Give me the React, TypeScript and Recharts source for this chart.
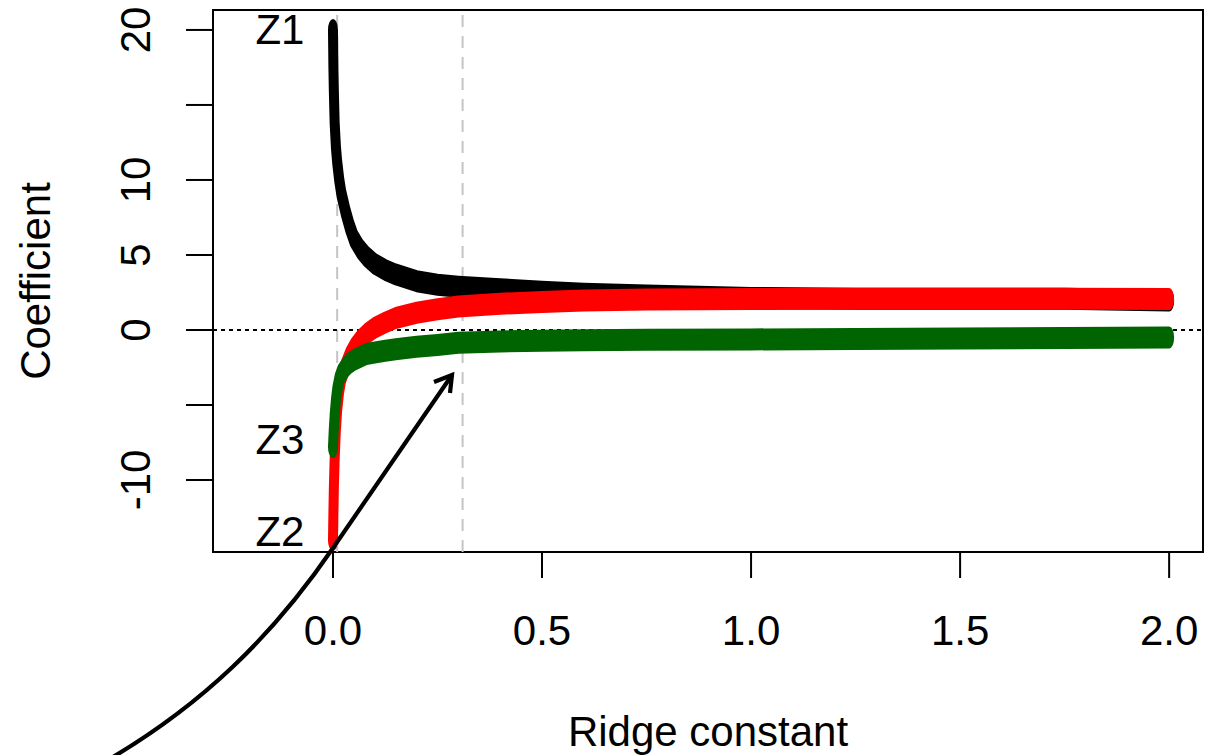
import {
  Line,
  LineChart,
  ReferenceArea,
  ReferenceDot,
  ReferenceLine,
  XAxis,
  YAxis,
} from "recharts";

// ridge trace: coefficient of each predictor against the ridge constant k
const ridgeK = [0, 0.001, 0.002, 0.004, 0.007, 0.01, 0.015, 0.02, 0.03, 0.04, 0.05, 0.065, 0.08, 0.1, 0.125, 0.15, 0.2, 0.25, 0.3, 0.4, 0.5, 0.6, 0.75, 1.0, 1.25, 1.5, 1.75, 2.0];
const coefZ1 = [20.0, 17.5, 16.0, 13.8, 12.2, 11.2, 10.0, 9.1, 7.9, 6.9, 6.1, 5.4, 4.9, 4.4, 4.0, 3.7, 3.25, 3.02, 2.88, 2.72, 2.55, 2.42, 2.3, 2.13, 2.08, 2.08, 2.08, 1.96];
const coefZ2 = [-14.0, -12.2, -10.6, -8.6, -6.6, -5.3, -4.0, -3.2, -2.4, -1.7, -1.2, -0.65, -0.25, 0.15, 0.5, 0.8, 1.15, 1.38, 1.57, 1.75, 1.87, 1.97, 2.03, 2.07, 2.08, 2.08, 2.08, 2.07];
const coefZ3 = [-7.8, -7.2, -6.6, -5.7, -4.7, -4.0, -3.3, -2.9, -2.5, -2.2, -2.0, -1.8, -1.6, -1.5, -1.38, -1.28, -1.12, -1.0, -0.85, -0.76, -0.72, -0.68, -0.65, -0.63, -0.6, -0.57, -0.53, -0.5];

const xTicks = [0, 0.5, 1, 1.5, 2];
const xTickLabels = ["0.0", "0.5", "1.0", "1.5", "2.0"];
const yTicks = [-10, -5, 0, 5, 10, 15, 20];
const yTickLabels = ["-10", "", "0", "5", "10", "", "20"];
const kMarks = [0.01, 0.31];
const seriesTags = [
  { name: "Z1", k: -0.127, coef: 20.07 },
  { name: "Z3", k: -0.127, coef: -7.27 },
  { name: "Z2", k: -0.127, coef: -13.4 },
];

const X_DOMAIN: [number, number] = [-0.287, 2.081];
const Y_DOMAIN: [number, number] = [-14.8, 21.33];

const FONT = "'Liberation Sans', Arial, sans-serif";
const FS = 42;
const PEN_W = 10;
const PEN_H = 22;

const data = ridgeK.map((k, i) => ({ k, z1: coefZ1[i], z2: coefZ2[i], z3: coefZ3[i] }));

// draws the whole series as one thick band, like the overplotted digits in R
function bandDot(color: string) {
  let pts: { x: number; y: number }[] = [];
  return (props: any) => {
    const { index, cx, cy, points } = props;
    if (index === 0) pts = [];
    pts.push({ x: cx, y: cy });
    const last = (points?.length ?? ridgeK.length) - 1;
    if (index !== last) return <g key={`d${index}`} />;
    const all: { x: number; y: number }[] = points
      ? points.map((p: any) => ({ x: p.x, y: p.y }))
      : pts;
    const s = PEN_H / PEN_W;
    const d = all.map((p, i) => `${i ? "L" : "M"}${p.x},${p.y / s}`).join(" ");
    return (
      <path
        key="band"
        d={d}
        transform={`scale(1 ${s})`}
        fill="none"
        stroke={color}
        strokeWidth={PEN_W}
        strokeLinecap="round"
        strokeLinejoin="round"
      />
    );
  };
}

const dotZ1 = bandDot("#000000");
const dotZ2 = bandDot("#ff0000");
const dotZ3 = bandDot("#006400");

function XTick({ x, y, payload }: any) {
  const label = xTickLabels[xTicks.indexOf(payload.value)];
  return (
    <text x={x} y={y} dy="0.71em" textAnchor="middle" fontSize={FS} fontFamily={FONT} fill="#000">
      {label}
    </text>
  );
}

function YTick({ x, y, payload }: any) {
  const label = yTickLabels[yTicks.indexOf(payload.value)];
  return (
    <text
      x={x}
      y={y}
      transform={`rotate(-90, ${x}, ${y})`}
      textAnchor="middle"
      fontSize={FS}
      fontFamily={FONT}
      fill="#000"
    >
      {label}
    </text>
  );
}

function YTitle({ viewBox }: any) {
  const x = viewBox.x + 50;
  const y = viewBox.y + viewBox.height / 2;
  return (
    <text x={x} y={y} transform={`rotate(-90, ${x}, ${y})`} textAnchor="middle" fontSize={FS} fontFamily={FONT} fill="#000">
      Coefficient
    </text>
  );
}

export default function App() {
  return (
    <div style={{ position: "relative", width: 1205, height: 755, background: "#fff" }}>
      <style>{"body{margin:0}"}</style>
      <LineChart
        width={1205}
        height={755}
        data={data}
        margin={{ top: 10, right: 2, bottom: 0, left: 0 }}
        style={{ fontFamily: FONT }}
      >
        <XAxis
          type="number"
          dataKey="k"
          domain={X_DOMAIN}
          allowDataOverflow
          ticks={xTicks}
          height={203}
          axisLine={false}
          tickSize={26}
          tickMargin={37}
          tickLine={{ stroke: "#000", strokeWidth: 2 }}
          tick={<XTick />}
          label={{ value: "Ridge constant", position: "insideBottom", offset: 9, fontSize: FS, fill: "#000", fontFamily: FONT }}
        />
        <YAxis
          type="number"
          domain={Y_DOMAIN}
          allowDataOverflow
          ticks={yTicks}
          width={213}
          axisLine={false}
          tickSize={27}
          tickMargin={36}
          tickLine={{ stroke: "#000", strokeWidth: 2 }}
          tick={<YTick />}
          label={(p: any) => <YTitle {...p} />}
        />
        <Line dataKey="z1" stroke="none" dot={dotZ1} activeDot={false} isAnimationActive={false} />
        <Line dataKey="z2" stroke="none" dot={dotZ2} activeDot={false} isAnimationActive={false} />
        <Line dataKey="z3" stroke="none" dot={dotZ3} activeDot={false} isAnimationActive={false} />
        {kMarks.map((k) => (
          <ReferenceLine key={k} x={k} stroke="#c4c4c4" strokeWidth={2} strokeDasharray="12 9" />
        ))}
        <ReferenceLine y={0} stroke="#000" strokeWidth={2} strokeDasharray="4 4" />
        {seriesTags.map((t) => (
          <ReferenceDot
            key={t.name}
            x={t.k}
            y={t.coef}
            r={1}
            fill="none"
            stroke="none"
            label={{ value: t.name, position: "center", fontSize: FS, fill: "#000", fontFamily: FONT }}
          />
        ))}
        <ReferenceArea
          x1={X_DOMAIN[0]}
          x2={X_DOMAIN[1]}
          y1={Y_DOMAIN[0]}
          y2={Y_DOMAIN[1]}
          fill="none"
          fillOpacity={0}
          stroke="#000"
          strokeWidth={2}
          strokeOpacity={1}
        />
      </LineChart>
      <svg
        width={1205}
        height={755}
        style={{ position: "absolute", left: 0, top: 0, pointerEvents: "none" }}
      >
        <path d="M113 757 C200 705, 270 640, 333 548 L452 375" fill="none" stroke="#000" strokeWidth={4.2} />
        <path d="M434 382 L452 375 L450 393" fill="none" stroke="#000" strokeWidth={4.2} strokeLinejoin="miter" />
      </svg>
    </div>
  );
}
